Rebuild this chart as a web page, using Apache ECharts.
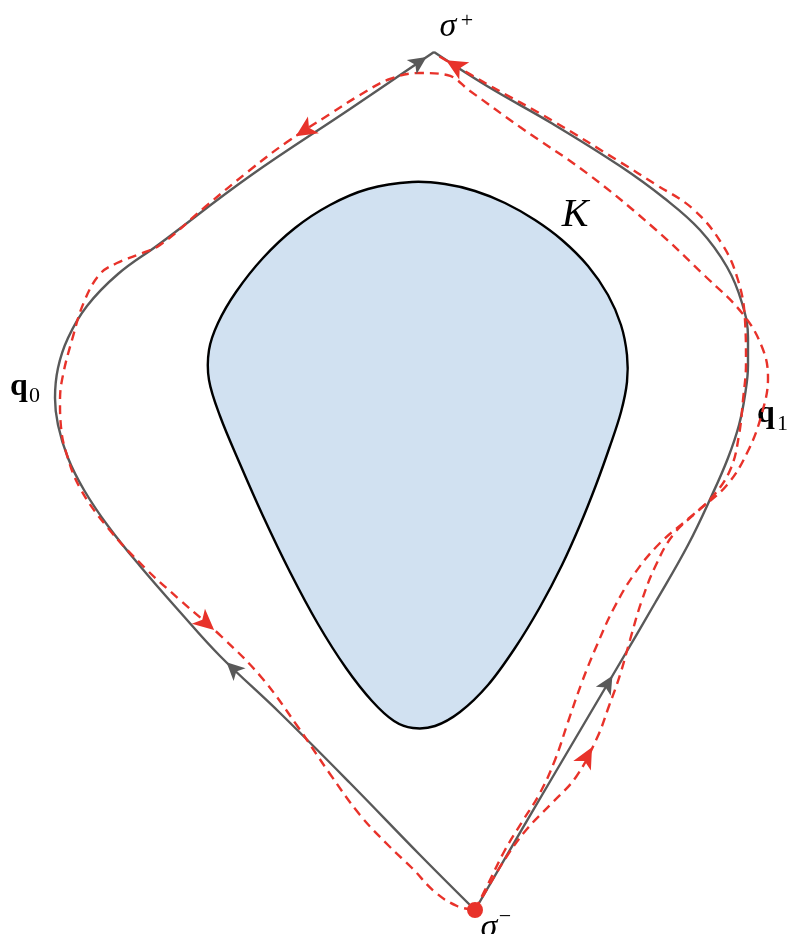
<!DOCTYPE html>
<html><head><meta charset="utf-8">
<script src="https://cdn.jsdelivr.net/npm/echarts@6/dist/echarts.min.js"></script>
<style>html,body{margin:0;padding:0;background:#fff}#c{width:789px;height:934px}</style>
</head><body><div id="c"></div>
<script>
// ---- data (pixel-space coordinates of the diagram, y downward) ----
const kShape = [[412,182],[445,184],[475,191],[505,203],[535,220],[562,240],[588,266],[608,295],[621,325],[627,355],[627,382],[621,412],[610,446],[596,485],[580,525],[562,565],[540,607],[515,648],[488,685],[460,712],[435,726],[413,728],[394,721],[372,701],[346,668],[318,624],[290,572],[263,516],[240,464],[220,416],[209,380],[209,350],[218,323],[236,292],[263,258],[295,228],[330,205],[368,189]];

const grayLeft = [[475,910],[420,855],[350,783],[280,713],[220,656],[180,612],[140,566],[108,526],[84,490],[68,458],[58,425],[55,398],[58,368],[68,338],[87,306],[118,274],[158,245],[250,176],[350,109],[434,52]];

const grayRight = [[475,910],[545,790],[617,668],[655,603],[688,545],[712,495],[728,458],[739,425],[745,395],[748,365],[748,338],[742,303],[727,267],[700,230],[664,198],[620,166],[553,124],[487,86],[434,52]];

const redLoop = [[475,910],[490,884],[507,856],[527,829],[552,803],[576,777],[597,738],[609,706],[620,675],[630,640],[641,603],[655,567],[673,535],[698,511],[727,485],[748,451],[762,413],[768,378],[762,347],[742,313],[705,276],[655,229],[588,174],[520,127],[470,91],[447,75],[420,73],[390,79],[360,95],[330,114],[287,142],[250,170],[205,207],[160,245],[137,255],[117,263],[100,274],[84,302],[72,340],[63,375],[60,400],[61,427],[66,452],[80,488],[108,528],[145,568],[180,600],[222,637],[262,678],[298,727],[330,774],[360,815],[390,847],[412,868],[435,892],[457,906],[475,910]];

const redRight = [[475,910],[489,882],[505,850],[522,822],[540,793],[555,760],[568,722],[582,682],[597,645],[614,608],[635,573],[660,543],[688,519],[714,495],[731,468],[739,435],[743,400],[746,363],[745,320],[738,280],[722,244],[693,209],[655,184],[620,162],[553,121],[487,84],[437,55]];

const sigmaMinus = [[475,910]];

// arrowheads: [path name, index of tip point] (direction from previous point)
const grayArrows = [['grayLeft',4],['grayLeft',19],['grayRight',2]];
const redArrows = [['redLoop',6],['redLoop',30],['redLoop',47],['redRight',26]];

// ---- build ----
const paths = {grayLeft, grayRight, redLoop, redRight};
function arrowData(list, len){
  return list.map(([name, i]) => {
    const p = paths[name], t = p[i], q = p[i-1];
    const dx = t[0]-q[0], dy = t[1]-q[1], d = Math.hypot(dx,dy);
    const ux = dx/d, uy = dy/d;
    return {value:[t[0]-ux*len/2, t[1]-uy*len/2],
            symbolRotate: -90 - Math.atan2(uy,ux)*180/Math.PI};
  });
}
const GRAY = '#595959', RED = '#e8322a';
const chart = echarts.init(document.getElementById('c'), null, {renderer:'canvas'});
const lineBase = {type:'line', showSymbol:false, symbol:'none', smooth:0.4, silent:true, animation:false};
const serif = '"Liberation Serif","DejaVu Serif",serif';
chart.setOption({
  animation:false,
  grid:{left:0,right:0,top:0,bottom:0},
  xAxis:{type:'value',min:0,max:789,show:false},
  yAxis:{type:'value',min:0,max:934,inverse:true,show:false},
  series:[
    {type:'custom', coordinateSystem:'cartesian2d', clip:false, data:[[0,0]], silent:true,
     renderItem:(params, api) => ({type:'polygon', shape:{points:kShape.map(p=>api.coord(p)), smooth:0.35},
       style:{fill:'#d1e1f1', stroke:'#000', lineWidth:2.4}})},
    Object.assign({}, lineBase, {data:grayLeft, lineStyle:{color:GRAY,width:2.4}}),
    Object.assign({}, lineBase, {data:grayRight, lineStyle:{color:GRAY,width:2.4}}),
    Object.assign({}, lineBase, {data:redLoop, lineStyle:{color:RED,width:2.4,type:[9,6],cap:'butt'}}),
    Object.assign({}, lineBase, {data:redRight, lineStyle:{color:RED,width:2.4,type:[9,6],cap:'butt'}}),
    {type:'scatter', symbol:'arrow', symbolSize:[13,18], silent:true, itemStyle:{color:GRAY,opacity:1},
     data:arrowData(grayArrows,18), z:3},
    {type:'scatter', symbol:'arrow', symbolSize:[15,21], silent:true, itemStyle:{color:RED,opacity:1},
     data:arrowData(redArrows,21), z:4},
    {type:'scatter', symbol:'circle', symbolSize:16, silent:true, itemStyle:{color:RED,opacity:1},
     data:sigmaMinus, z:5}
  ],
  graphic:[
    {type:'text', x:448, y:27, style:{text:'σ', font:'italic 34px '+serif, fill:'#000', align:'center', verticalAlign:'middle'}},
    {type:'text', x:467, y:21, style:{text:'+', font:'22px '+serif, fill:'#000', align:'center', verticalAlign:'middle'}},
    {type:'text', x:575, y:215, style:{text:'K', font:'italic 40px '+serif, fill:'#000', align:'center', verticalAlign:'middle'}},
    {type:'text', x:10, y:387, style:{text:'q', font:'bold 32px '+serif, fill:'#000', align:'left', verticalAlign:'middle'}},
    {type:'text', x:29, y:396, style:{text:'0', font:'22px '+serif, fill:'#000', align:'left', verticalAlign:'middle'}},
    {type:'text', x:757, y:414, style:{text:'q', font:'bold 32px '+serif, fill:'#000', align:'left', verticalAlign:'middle'}},
    {type:'text', x:777, y:424, style:{text:'1', font:'22px '+serif, fill:'#000', align:'left', verticalAlign:'middle'}},
    {type:'text', x:489, y:928, style:{text:'σ', font:'italic 34px '+serif, fill:'#000', align:'center', verticalAlign:'middle'}},
    {type:'text', x:505, y:917, style:{text:'−', font:'22px '+serif, fill:'#000', align:'center', verticalAlign:'middle'}}
  ]
});
</script></body></html>
